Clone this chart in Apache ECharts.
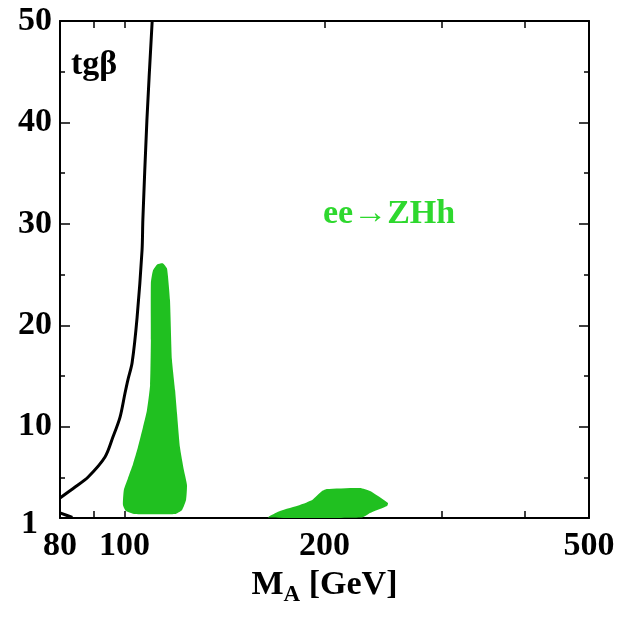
<!DOCTYPE html>
<html>
<head>
<meta charset="utf-8">
<script src="https://cdn.jsdelivr.net/npm/echarts@6/dist/echarts.min.js"></script>
<style>
  html, body { margin: 0; padding: 0; background: #ffffff; }
  #chart { width: 633px; height: 617px; }
</style>
</head>
<body>
<div id="chart"></div>
<script>
// x ticks / labels (M_A in GeV, log scale)
const xLabels = [80, 100, 200, 500];
const xTicks = [80, 90, 100, 200, 300, 400, 500];
// y ticks / labels (tg beta)
const yLabels = [1, 10, 20, 30, 40, 50];
const yMajor = [10, 20, 30, 40];
const yMinor = [5, 15, 25, 35, 45];

// black boundary curve
const limitCurve = [
  [80, 2.97], [84.3, 4.05], [88.2, 5.04], [93.5, 7.01], [96.1, 8.98],
  [98.5, 10.95], [100.2, 13.3], [101.2, 14.6], [102.7, 16.3], [104.5, 20.8],
  [106.3, 27.4], [106.6, 30.4], [108.1, 40.2], [110.1, 50]
];
// small piece in lower left corner
const cornerCurve = [[80, 1.5], [82, 1.25], [83.5, 1.05]];

// green region near M_A ~ 110
const regionLow = [
  [112.0, 26.0], [114.3, 26.1], [115.9, 25.6], [117.1, 22.5], [117.9, 16.6],
  [119.2, 13.6], [120.0, 11.3], [121.2, 8.0], [122.9, 5.7], [124.2, 4.25],
  [123.8, 2.77], [122.1, 1.79], [119.2, 1.39], [103.7, 1.39], [100.5, 1.69],
  [99.5, 2.28], [99.8, 3.76], [101.2, 4.9], [103.0, 6.3], [104.8, 8.0],
  [106.6, 9.9], [108.1, 11.6], [109.3, 14.1], [109.6, 18.5], [109.6, 24.2],
  [110.4, 25.4]
];
// green region near M_A ~ 200
const regionHigh = [
  [164.5, 1.05], [171.4, 1.69], [183.7, 2.28], [191.6, 2.77], [198.3, 3.66],
  [201.8, 3.86], [226.2, 3.96], [234.2, 3.66], [249.2, 2.48], [248.4, 2.18],
  [234.2, 1.49], [227.8, 1.05]
];

const GREEN = '#20c020';
const FONT = 'Liberation Serif';

let myChart = echarts.init(document.getElementById('chart'), null, {
  width: 633, height: 617, renderer: 'canvas'
});

function polygonRender(points) {
  return function (params, api) {
    if (params.dataIndex !== 0) return;
    return {
      type: 'polygon',
      shape: { points: points.map(p => api.coord(p)), smooth: 0.15 },
      style: { fill: GREEN }
    };
  };
}

const yBase = { type: 'value', min: 1, max: 50, splitLine: { show: false } };
const xBase = { type: 'log', logBase: 10, min: 80, max: 500, splitLine: { show: false } };

let option = {
  backgroundColor: '#ffffff',
  animation: false,
  grid: { left: 60, right: 44, top: 21, bottom: 99, outerBoundsMode: 'none', containLabel: false },
  xAxis: [
    Object.assign({}, xBase, {
      position: 'bottom',
      axisLine: { lineStyle: { color: '#000', width: 2 } },
      axisTick: { inside: true, length: 7, customValues: xTicks, lineStyle: { color: '#000', width: 1.5 } },
      axisLabel: {
        customValues: xLabels, margin: 11, color: '#000',
        fontFamily: FONT, fontSize: 34, fontWeight: 'bold'
      },
      name: '{m|M}{a|A}{m| [GeV]}',
      nameLocation: 'middle',
      nameGap: 46,
      nameTextStyle: {
        rich: {
          m: { fontFamily: FONT, fontSize: 34, fontWeight: 'bold', color: '#000' },
          a: { fontFamily: FONT, fontSize: 23, fontWeight: 'bold', color: '#000', padding: [20, 0, 0, 0] }
        }
      }
    }),
    Object.assign({}, xBase, {
      position: 'top',
      axisLine: { lineStyle: { color: '#000', width: 2 } },
      axisTick: { inside: true, length: 7, customValues: xTicks, lineStyle: { color: '#000', width: 1.5 } },
      axisLabel: { show: false }
    })
  ],
  yAxis: [
    Object.assign({}, yBase, {
      position: 'left',
      axisLine: { show: true, lineStyle: { color: '#000', width: 2 } },
      axisTick: { inside: true, length: 10, customValues: yMajor, lineStyle: { color: '#000', width: 1.5 } },
      axisLabel: {
        customValues: yLabels, margin: 8, color: '#000',
        fontFamily: FONT, fontSize: 34, fontWeight: 'bold',
        formatter: v => (v === 1 ? '{one|1}' : String(v)),
        rich: { one: { fontFamily: FONT, fontSize: 34, fontWeight: 'bold', color: '#000', padding: [12, 14, 0, 0] } }
      }
    }),
    Object.assign({}, yBase, {
      position: 'left',
      axisLine: { show: false },
      axisTick: { inside: true, length: 5, customValues: yMinor, lineStyle: { color: '#000', width: 1.5 } },
      axisLabel: { show: false }
    }),
    Object.assign({}, yBase, {
      position: 'right',
      axisLine: { show: true, lineStyle: { color: '#000', width: 2 } },
      axisTick: { inside: true, length: 10, customValues: yMajor, lineStyle: { color: '#000', width: 1.5 } },
      axisLabel: { show: false }
    }),
    Object.assign({}, yBase, {
      position: 'right',
      axisLine: { show: false },
      axisTick: { inside: true, length: 5, customValues: yMinor, lineStyle: { color: '#000', width: 1.5 } },
      axisLabel: { show: false }
    })
  ],
  graphic: [
    {
      type: 'text', left: 71, top: 48,
      style: { text: 'tgβ', font: 'bold 34px "Liberation Serif"', fill: '#000' }
    },
    {
      type: 'text', left: 323, top: 197,
      style: { text: 'ee→ZHh', font: 'bold 34px "Liberation Serif"', fill: '#2ed82e' }
    }
  ],
  series: [
    {
      type: 'custom',
      name: 'low',
      renderItem: polygonRender(regionLow),
      data: regionLow,
      encode: { x: 0, y: 1 },
      silent: true
    },
    {
      type: 'custom',
      name: 'high',
      renderItem: polygonRender(regionHigh),
      data: regionHigh,
      encode: { x: 0, y: 1 },
      silent: true
    },
    {
      type: 'line',
      name: 'limit',
      data: limitCurve,
      showSymbol: false,
      smooth: 0.3,
      lineStyle: { color: '#000', width: 3 }
    },
    {
      type: 'line',
      name: 'corner',
      data: cornerCurve,
      showSymbol: false,
      lineStyle: { color: '#000', width: 3 }
    }
  ]
};

myChart.setOption(option);
</script>
</body>
</html>
